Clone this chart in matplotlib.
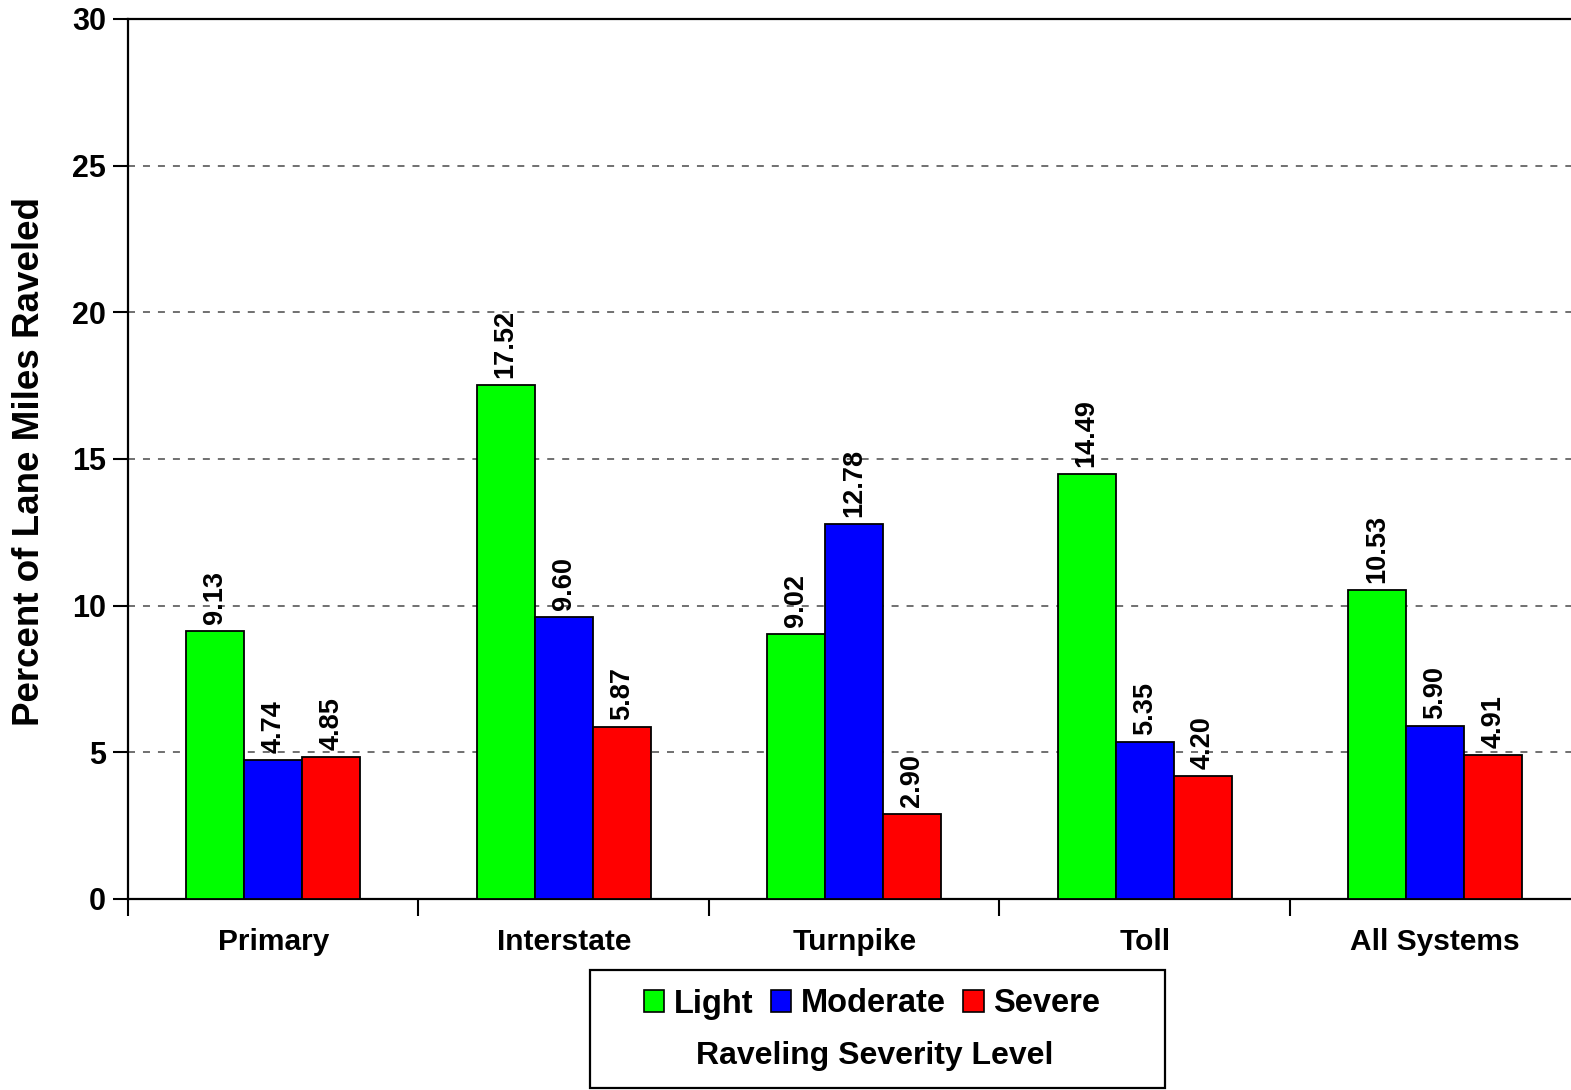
import matplotlib
matplotlib.use("Agg")
import matplotlib.pyplot as plt
import numpy as np
from matplotlib.patches import Rectangle, Patch

categories = ["Primary", "Interstate", "Turnpike", "Toll", "All Systems"]
series_names = ["Light", "Moderate", "Severe"]
light = [9.13, 17.52, 9.02, 14.49, 10.53]
moderate = [4.74, 9.60, 12.78, 5.35, 5.90]
severe = [4.85, 5.87, 2.90, 4.20, 4.91]
yticks = [0, 5, 10, 15, 20, 25, 30]
colors = ["#00FF00", "#0000FF", "#FF0000"]

plt.rcParams['font.family'] = ['Liberation Sans', 'DejaVu Sans']
plt.rcParams['font.weight'] = 'bold'

W, H = 1571, 1090
fig = plt.figure(figsize=(W / 100, H / 100), dpi=100)
ax = fig.add_axes([128 / W, 1 - 899 / H, 1452.5 / W, 880 / H])

x = np.arange(len(categories))
bw = 0.2
for i, (vals, name, c) in enumerate(zip([light, moderate, severe], series_names, colors)):
    pos = x + (i - 1) * bw
    bars = ax.bar(pos, vals, width=bw, color=c, edgecolor="black", linewidth=1.3, zorder=3, label=name)
    for b, v in zip(bars, vals):
        ax.annotate(f"{v:.2f}", (b.get_x() + b.get_width() / 2, v), xytext=(0, 5),
                    textcoords="offset points", rotation=90, ha="center", va="bottom",
                    fontsize=19.5, fontweight="bold", zorder=4)

ax.set_xlim(-0.5, len(categories) - 0.5)
ax.set_ylim(0, 30)
ax.set_yticks(yticks)
ax.set_yticklabels([str(t) for t in yticks], fontsize=22, fontweight="bold")
for t in yticks[1:-1]:
    ax.axhline(t, color="#707070", linewidth=1.4, dashes=(3.6, 4.1), zorder=1)

ax.set_xticks(x)
ax.set_xticklabels(categories, fontsize=21.5, fontweight="bold")
ax.set_xticks(np.arange(len(categories) + 1) - 0.5, minor=True)
ax.tick_params(axis="x", which="major", length=0, pad=21)
ax.tick_params(axis="x", which="minor", length=12, width=1.5, direction="out")
ax.tick_params(axis="y", length=11, width=1.5, direction="out", pad=5)

for s in ["left", "bottom", "top", "right"]:
    ax.spines[s].set_linewidth(1.6)

fig.text(30 / W, 1 - 461.5 / H, "Percent of Lane Miles Raveled", rotation=90,
         ha="center", va="center", fontsize=26.5, fontweight="bold")

# legend box
fig.patches.append(Rectangle((590 / W, 1 - 1088 / H), 575 / W, 118 / H, transform=fig.transFigure,
                             facecolor="white", edgecolor="black", linewidth=1.6, zorder=5))
handles = [Patch(facecolor=c, edgecolor="black", linewidth=1.2) for c in colors]
leg = fig.legend(handles, series_names, loc="center", bbox_to_anchor=(872 / W, 1 - 1004 / H),
                 ncol=3, frameon=False, handlelength=0.62, handleheight=0.62,
                 handletextpad=0.28, columnspacing=0.55, prop={"size": 23.5, "weight": "bold"})
leg.set_zorder(6)
fig.text(875 / W, 1 - 1056 / H, "Raveling Severity Level", ha="center", va="center",
         fontsize=23, fontweight="bold", zorder=6)

fig.savefig("out.png", dpi=100)
